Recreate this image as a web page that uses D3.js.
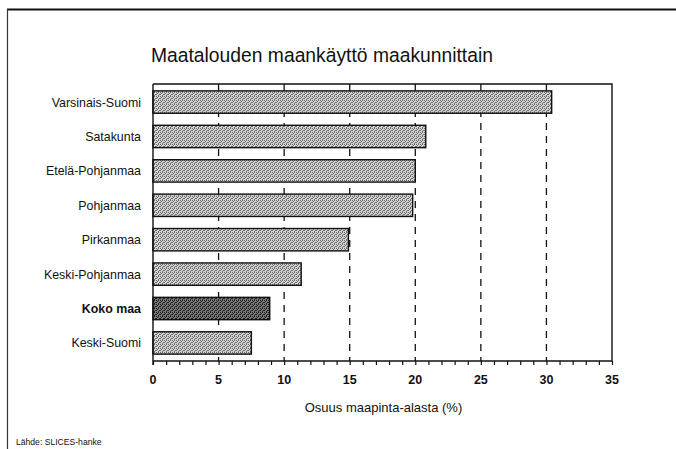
<!DOCTYPE html>
<html>
<head>
<meta charset="utf-8">
<script src="https://cdn.jsdelivr.net/npm/d3@7"></script>
<style>
  html, body { margin: 0; padding: 0; background: #fff; }
  svg { display: block; font-family: Arial, "Liberation Sans", sans-serif; }
</style>
</head>
<body>
<svg id="chart" width="676" height="449"></svg>
<script>
// Agricultural land use by region, share of land area (%)
const regions = ["Varsinais-Suomi", "Satakunta", "Etelä-Pohjanmaa", "Pohjanmaa",
                 "Pirkanmaa", "Keski-Pohjanmaa", "Koko maa", "Keski-Suomi"];
const shares = [30.4, 20.8, 20.0, 19.8, 14.9, 11.3, 8.9, 7.5];
const xTicks = [0, 5, 10, 15, 20, 25, 30, 35];
const gridValues = [5, 10, 15, 20, 25, 30];
const highlighted = "Koko maa";

const titleText = "Maatalouden maankäyttö maakunnittain";
const xAxisTitle = "Osuus maapinta-alasta (%)";
const sourceText = "Lähde: SLICES-hanke";

const svg = d3.select("#chart");
const plot = { left: 153, right: 612, top: 84, bottom: 361 };

// Halftone-like fills for the bars: a 4x4 tile of scattered dark pixels
const dotMask = [
  "x.x.",
  ".x..",
  "x..x",
  "..x.",
];
const defs = svg.append("defs");
function dither(id, light, dark) {
  const p = defs.append("pattern").attr("id", id)
    .attr("width", 4).attr("height", 4).attr("patternUnits", "userSpaceOnUse");
  p.append("rect").attr("width", 4).attr("height", 4).attr("fill", light)
    .attr("shape-rendering", "crispEdges");
  dotMask.forEach((row, r) => row.split("").forEach((c, k) => {
    if (c === "x") p.append("rect").attr("x", k).attr("y", r)
      .attr("width", 1).attr("height", 1).attr("fill", dark)
      .attr("shape-rendering", "crispEdges");
  }));
}
dither("lightFill", "#d4d4d4", "#6a6a6a");
dither("darkFill", "#7a7a7a", "#1e1e1e");

// Outer frame (top and left edges)
svg.append("line").attr("x1", 7).attr("x2", 676).attr("y1", 9.5).attr("y2", 9.5)
  .attr("stroke", "#111").attr("stroke-width", 2);
svg.append("line").attr("x1", 7.5).attr("x2", 7.5).attr("y1", 9).attr("y2", 449)
  .attr("stroke", "#333").attr("stroke-width", 1.2);

// Title
svg.append("text").attr("x", 151).attr("y", 62)
  .attr("font-size", 19.3).attr("fill", "#111").text(titleText);

const x = d3.scaleLinear().domain([0, 35]).range([plot.left, plot.right]);
const y = d3.scaleBand().domain(regions).range([plot.top, plot.bottom])
  .paddingInner(0.35).paddingOuter(0.2);

// Dashed vertical gridlines
svg.append("g").selectAll("line").data(gridValues).join("line")
  .attr("x1", d => x(d)).attr("x2", d => x(d))
  .attr("y1", plot.top).attr("y2", plot.bottom)
  .attr("stroke", "#111").attr("stroke-width", 1.3)
  .attr("stroke-dasharray", "7,6");

// Bars
svg.append("g").selectAll("rect").data(regions).join("rect")
  .attr("x", x(0))
  .attr("y", d => y(d))
  .attr("width", (d, i) => x(shares[i]) - x(0))
  .attr("height", y.bandwidth())
  .attr("fill", d => d === highlighted ? "url(#darkFill)" : "url(#lightFill)")
  .attr("stroke", "#111").attr("stroke-width", 1.4);

// Plot frame: top and right edges
svg.append("path")
  .attr("d", `M${plot.left},${plot.top}H${plot.right}V${plot.bottom}`)
  .attr("fill", "none").attr("stroke", "#111").attr("stroke-width", 1.4);

// Left axis line
svg.append("line").attr("x1", plot.left).attr("x2", plot.left)
  .attr("y1", plot.top).attr("y2", plot.bottom + 4)
  .attr("stroke", "#111").attr("stroke-width", 1.4);

// Bottom axis with minor ticks every unit and labels every 5
const xAxis = svg.append("g").attr("transform", `translate(0,${plot.bottom})`)
  .call(d3.axisBottom(x).ticks(35).tickSize(4).tickFormat(""));
xAxis.select(".domain").attr("stroke", "#111").attr("stroke-width", 1.4)
  .attr("d", `M${plot.left},0H${plot.right}`);
xAxis.selectAll(".tick line").attr("stroke", "#111").attr("stroke-width", 1.2);

svg.append("g").selectAll("text").data(xTicks).join("text")
  .attr("x", d => x(d)).attr("y", plot.bottom + 23)
  .attr("text-anchor", "middle").attr("font-size", 12.5).attr("font-weight", "bold")
  .attr("fill", "#111").text(d => d);

// Category labels
svg.append("g").selectAll("text").data(regions).join("text")
  .attr("x", 141)
  .attr("y", d => y(d) + y.bandwidth() / 2 + 4.5)
  .attr("text-anchor", "end").attr("font-size", 12.4)
  .attr("font-weight", d => d === highlighted ? "bold" : "normal")
  .attr("fill", "#111").text(d => d);

// Axis title
svg.append("text").attr("x", (plot.left + plot.right) / 2 + 1).attr("y", 412)
  .attr("text-anchor", "middle").attr("font-size", 13).attr("fill", "#111")
  .text(xAxisTitle);

// Source note
svg.append("text").attr("x", 16).attr("y", 445)
  .attr("font-size", 8.6).attr("fill", "#111").text(sourceText);
</script>
</body>
</html>
